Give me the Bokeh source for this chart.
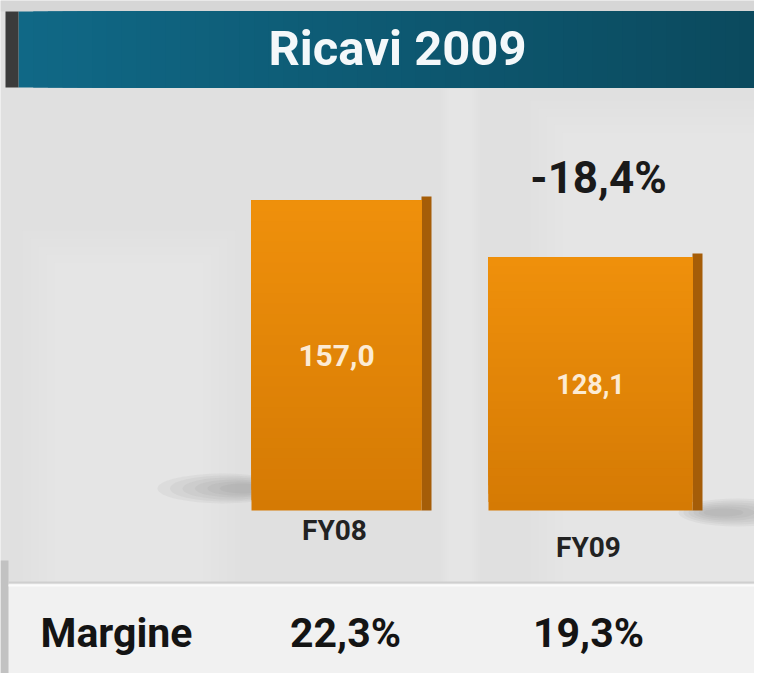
from bokeh.plotting import figure
from bokeh.models import Range1d
from bokeh.embed import file_html
from bokeh.resources import INLINE
from bokeh.core.properties import value
import numpy as np

# ---- data ----
title_text = "Ricavi 2009"
categories = ["FY08", "FY09"]
revenues = [157.0, 128.1]
revenue_labels = ["157,0", "128,1"]
change_label = "-18,4%"
margin_title = "Margine"
margin_labels = ["22,3%", "19,3%"]

# ---- layout / style constants (reference pixel space) ----
W, H = 754, 673
OX, OY = 0, 0
BASE = 510.0            # pixel row of bar baseline
S = 310.0 / 157.0       # pixels per revenue unit
FONT = "Roboto"

bar_x = [336, 590]
bar_w = [170, 204]
cat_rows = [530, 547]
margin_x = [345, 588]


def vy(r):
    return (BASE - r) / S


def lerp_hex(a, b, t):
    a = np.array([int(a[i:i + 2], 16) for i in (1, 3, 5)])
    b = np.array([int(b[i:i + 2], 16) for i in (1, 3, 5)])
    c = (a * (1 - t) + b * t).round().astype(int)
    return "#%02x%02x%02x" % tuple(c)


p = figure(width=W, height=H,
           x_range=Range1d(OX, OX + W), y_range=Range1d(vy(OY + H), vy(OY)),
           output_backend="svg", toolbar_location=None, min_border=0,
           x_axis_location=None, y_axis_location=None)
p.grid.visible = False
p.outline_line_color = None
p.background_fill_color = "#e0e0e0"
p.border_fill_color = "#e0e0e0"

# background texture (subtle, feathered)
p.quad(left=[0], right=[W], top=[vy(0)], bottom=[vy(11)], fill_color="#d6d6d6", line_color=None)
for k in range(5):
    d = k * 8
    p.quad(left=[22 + d, 440 + d / 4, 530 + d], right=[235 - d, 480 - d / 4, W],
           top=[vy(230 + d), vy(88), vy(100 + d)], bottom=[vy(582), vy(582), vy(582)],
           fill_color="#f0f0f0", fill_alpha=0.08, line_color=None)
p.quad(left=[0], right=[W], top=[vy(583)], bottom=[vy(H)], fill_color="#f1f1f1", line_color=None)
p.quad(left=[0], right=[8], top=[vy(560)], bottom=[vy(H)], fill_color="#c2c2c2", line_color=None)
p.segment(x0=[8], x1=[W], y0=[vy(582)], y1=[vy(582)], line_color="#cfcfcf", line_width=2)
p.segment(x0=[8], x1=[W], y0=[vy(585)], y1=[vy(585)], line_color="#fbfbfb", line_width=2)

# banner gradient (cumulative overlays, no seams)
n = 50
edges = np.linspace(18, W, n + 1)
for i in range(n):
    col = lerp_hex("#106886", "#0b4a5e", i / (n - 1))
    p.quad(left=[edges[i]], right=[W], top=[vy(11)], bottom=[vy(87)], fill_color=col, line_color=None)
p.quad(left=[5], right=[18], top=[vy(11)], bottom=[vy(87)], fill_color="#3b3b3b", line_color=None)
p.text(x=[397], y=[vy(48)], text=[title_text], text_font=value(FONT), text_font_size="49px",
       text_font_style="bold", text_color="#f4f8fa", text_align="center", text_baseline="middle")

# soft shadows at the bar bases
for k in range(6):
    a = 0.07
    p.ellipse(x=[222 + k * 4], y=[vy(488)], width=130 - k * 17, height=(30 - k * 4) / S,
              fill_color="#707070", fill_alpha=a, line_color=None)
    p.ellipse(x=[738 - k * 3], y=[vy(512)], width=120 - k * 16, height=(28 - k * 4) / S,
              fill_color="#707070", fill_alpha=a, line_color=None)

# bars (side face + front face with vertical gradient)
side_l = [x + w / 2 for x, w in zip(bar_x, bar_w)]
side_r = [l + 10 for l in side_l]
p.quad(left=side_l, right=side_r, bottom=0, top=[v + 4 / S for v in revenues],
       fill_color="#a55d08", line_color=None)
m = 30
for i in range(m):
    f0 = i / m
    col = lerp_hex("#d57a04", "#ef900b", i / (m - 1))
    p.vbar(x=bar_x, width=bar_w, bottom=[v * f0 for v in revenues], top=revenues,
           fill_color=col, line_color=None)

p.text(x=bar_x, y=[v / 2 for v in revenues], text=revenue_labels, text_font=value(FONT),
       text_font_size=["30px", "27px"], text_font_style="bold", text_color="#fcebd4",
       text_align="center", text_baseline="middle")
p.text(x=[bar_x[1] + 8], y=[revenues[1] + 80 / S], text=[change_label], text_font=value(FONT),
       text_font_size="44px", text_font_style="bold", text_color="#1a1a1a",
       text_align="center", text_baseline="middle")
p.text(x=[x - 2 for x in bar_x], y=[vy(r) for r in cat_rows], text=categories, text_font=value(FONT),
       text_font_size="28px", text_font_style="bold", text_color="#222222",
       text_align="center", text_baseline="middle")

# margin row
p.text(x=[40], y=[vy(632)], text=[margin_title], text_font=value(FONT), text_font_size="41px",
       text_font_style="bold", text_color="#141414", text_align="left", text_baseline="middle")
p.text(x=margin_x, y=vy(632), text=margin_labels, text_font=value(FONT), text_font_size="41px",
       text_font_style="bold", text_color="#141414", text_align="center", text_baseline="middle")

open("out.html", "w").write(file_html(p, INLINE))
